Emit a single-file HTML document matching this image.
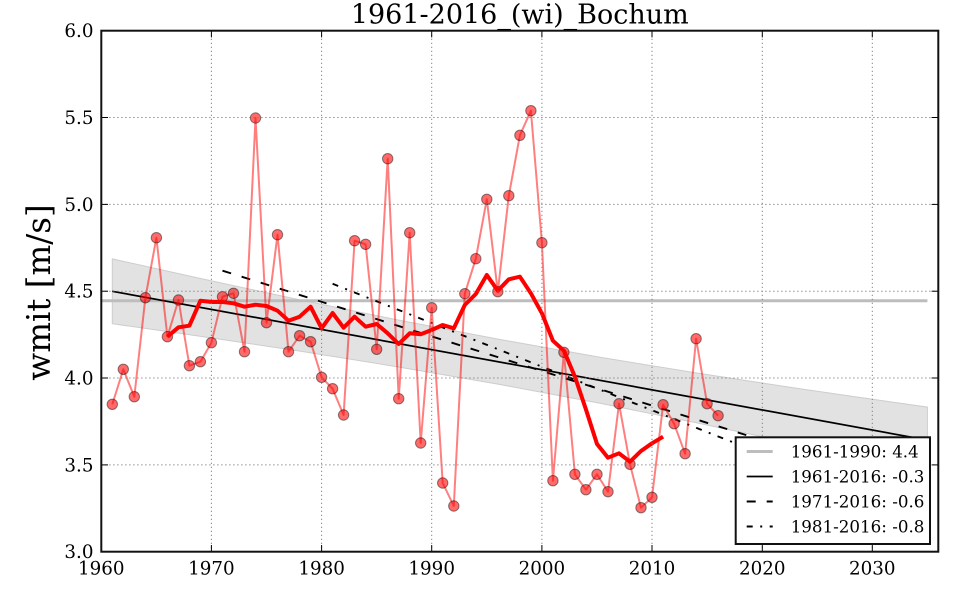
<!DOCTYPE html>
<html>
<head>
<meta charset="utf-8">
<style>
  html, body { margin: 0; padding: 0; background: #ffffff; }
  svg { display: block; }
  text { font-family: "DejaVu Serif", "Liberation Serif", serif; fill: #000; }
</style>
</head>
<body>
<svg width="960" height="600" viewBox="0 0 960 600" xmlns="http://www.w3.org/2000/svg">
  <rect x="0" y="0" width="960" height="600" fill="#ffffff"/>

  <!-- confidence band -->
  <polygon points="112.3,258.9 200,278.4 300,299.9 400,320.4 500,339.5 600,357.3 700,373.5 800,388.8 850,396.0 927.4,407.1 927.4,473.1 850,455.8 800,444.8 700,423.5 600,403.3 500,384.5 400,367.2 300,351.1 200,336.2 112.3,323.7"
           fill="#e2e2e2" stroke="#cdcdcd" stroke-width="1"/>

  <!-- 1961-1990 mean line -->
  <line x1="101.3" y1="300.8" x2="927.4" y2="300.8" stroke="#bdbdbd" stroke-width="3"/>

  <!-- trend lines -->
  <line x1="112.3" y1="291.3" x2="927.4" y2="440.1" stroke="#000" stroke-width="1.7"/>
  <line x1="222.5" y1="270.7" x2="927.4" y2="492.0" stroke="#000" stroke-width="1.9" stroke-dasharray="9 11"/>
  <line x1="332.6" y1="283.8" x2="927.4" y2="519.3" stroke="#000" stroke-width="1.9" stroke-dasharray="6 7.5 2 7.5"/>

  <!-- yearly values -->
  <polyline fill="none" stroke="#ff0000" stroke-opacity="0.5" stroke-width="2" stroke-linejoin="round"
    points="112.3,404.3 123.3,369.3 134.3,396.7 145.4,297.7 156.4,237.7 167.4,336.7 178.5,300 189.4,365.7 200.4,361.7 211.4,342.7 222.5,296.7 233.5,293.3 244.5,351.7 255.5,118 266.5,322.7 277.5,234.7 288.5,351.7 299.6,335.7 310.6,341.7 321.6,377.3 332.6,388.7 343.6,415 354.6,240.7 365.6,244.3 376.7,349.3 387.7,158.7 398.7,398.7 409.7,232.7 420.7,443 431.7,307.7 442.7,483 453.8,506 464.8,293.7 475.8,258.7 486.8,199.3 497.8,291.7 508.8,195.7 519.9,135.3 530.9,110.7 541.9,242.7 552.9,480.7 563.9,352.3 574.9,474.3 585.9,489.7 597.0,474.3 608.0,491.7 619.0,403.7 630.0,464.3 641.0,507.7 652.0,497.3 663.1,404.7 674.1,423.7 685.1,453.7 696.1,338.7 707.1,403.7 718.1,415.7"/>
  <g fill="#ff0000" fill-opacity="0.58" stroke="#000" stroke-opacity="0.45" stroke-width="1">
    <circle cx="112.3" cy="404.3" r="5.2"/><circle cx="123.3" cy="369.3" r="5.2"/><circle cx="134.3" cy="396.7" r="5.2"/>
    <circle cx="145.4" cy="297.7" r="5.2"/><circle cx="156.4" cy="237.7" r="5.2"/><circle cx="167.4" cy="336.7" r="5.2"/>
    <circle cx="178.5" cy="300" r="5.2"/><circle cx="189.4" cy="365.7" r="5.2"/><circle cx="200.4" cy="361.7" r="5.2"/>
    <circle cx="211.4" cy="342.7" r="5.2"/><circle cx="222.5" cy="296.7" r="5.2"/><circle cx="233.5" cy="293.3" r="5.2"/>
    <circle cx="244.5" cy="351.7" r="5.2"/><circle cx="255.5" cy="118" r="5.2"/><circle cx="266.5" cy="322.7" r="5.2"/>
    <circle cx="277.5" cy="234.7" r="5.2"/><circle cx="288.5" cy="351.7" r="5.2"/><circle cx="299.6" cy="335.7" r="5.2"/>
    <circle cx="310.6" cy="341.7" r="5.2"/><circle cx="321.6" cy="377.3" r="5.2"/><circle cx="332.6" cy="388.7" r="5.2"/>
    <circle cx="343.6" cy="415" r="5.2"/><circle cx="354.6" cy="240.7" r="5.2"/><circle cx="365.6" cy="244.3" r="5.2"/>
    <circle cx="376.7" cy="349.3" r="5.2"/><circle cx="387.7" cy="158.7" r="5.2"/><circle cx="398.7" cy="398.7" r="5.2"/>
    <circle cx="409.7" cy="232.7" r="5.2"/><circle cx="420.7" cy="443" r="5.2"/><circle cx="431.7" cy="307.7" r="5.2"/>
    <circle cx="442.7" cy="483" r="5.2"/><circle cx="453.8" cy="506" r="5.2"/><circle cx="464.8" cy="293.7" r="5.2"/>
    <circle cx="475.8" cy="258.7" r="5.2"/><circle cx="486.8" cy="199.3" r="5.2"/><circle cx="497.8" cy="291.7" r="5.2"/>
    <circle cx="508.8" cy="195.7" r="5.2"/><circle cx="519.9" cy="135.3" r="5.2"/><circle cx="530.9" cy="110.7" r="5.2"/>
    <circle cx="541.9" cy="242.7" r="5.2"/><circle cx="552.9" cy="480.7" r="5.2"/><circle cx="563.9" cy="352.3" r="5.2"/>
    <circle cx="574.9" cy="474.3" r="5.2"/><circle cx="585.9" cy="489.7" r="5.2"/><circle cx="597.0" cy="474.3" r="5.2"/>
    <circle cx="608.0" cy="491.7" r="5.2"/><circle cx="619.0" cy="403.7" r="5.2"/><circle cx="630.0" cy="464.3" r="5.2"/>
    <circle cx="641.0" cy="507.7" r="5.2"/><circle cx="652.0" cy="497.3" r="5.2"/><circle cx="663.1" cy="404.7" r="5.2"/>
    <circle cx="674.1" cy="423.7" r="5.2"/><circle cx="685.1" cy="453.7" r="5.2"/><circle cx="696.1" cy="338.7" r="5.2"/>
    <circle cx="707.1" cy="403.7" r="5.2"/><circle cx="718.1" cy="415.7" r="5.2"/>
  </g>

  <!-- smoothed line -->
  <polyline fill="none" stroke="#ff0000" stroke-width="4" stroke-linejoin="round"
    points="167.4,336.7 178.5,327.3 189.4,325.7 200.4,300.7 211.4,302 222.5,302 233.5,303.3 244.5,306.7 255.5,304.7 266.5,306 277.5,310.7 288.5,320.7 299.6,316.7 310.6,306.7 321.6,328.3 332.6,313 343.6,327.7 354.6,316.7 365.6,326.7 376.7,324 387.7,333.3 398.7,344 409.7,333.3 420.7,334.3 431.7,330 442.7,325 453.8,328.3 464.8,305 475.8,294 486.8,275 497.8,290.7 508.8,279.3 519.9,276.7 530.9,293.3 541.9,313.3 552.9,340.7 563.9,350.7 574.9,376.7 585.9,409.3 597.0,444 608.0,457.7 619.0,453.3 630.0,461.7 641.0,451 652.0,443.3 663.1,436.7"/>

  <!-- grid -->
  <g stroke="#777" stroke-width="1" stroke-dasharray="1.2 2.8">
    <line x1="211.4" y1="30.7" x2="211.4" y2="551.7"/>
    <line x1="321.6" y1="30.7" x2="321.6" y2="551.7"/>
    <line x1="431.7" y1="30.7" x2="431.7" y2="551.7"/>
    <line x1="541.9" y1="30.7" x2="541.9" y2="551.7"/>
    <line x1="652.0" y1="30.7" x2="652.0" y2="551.7"/>
    <line x1="762.3" y1="30.7" x2="762.3" y2="551.7"/>
    <line x1="872.3" y1="30.7" x2="872.3" y2="551.7"/>
    <line x1="101.3" y1="117.5" x2="938.3" y2="117.5"/>
    <line x1="101.3" y1="204.4" x2="938.3" y2="204.4"/>
    <line x1="101.3" y1="291.2" x2="938.3" y2="291.2"/>
    <line x1="101.3" y1="378.0" x2="938.3" y2="378.0"/>
    <line x1="101.3" y1="464.9" x2="938.3" y2="464.9"/>
  </g>

  <!-- ticks -->
  <g stroke="#000" stroke-width="1">
    <line x1="211.4" y1="551.7" x2="211.4" y2="545"/><line x1="211.4" y1="30.7" x2="211.4" y2="37.4"/>
    <line x1="321.6" y1="551.7" x2="321.6" y2="545"/><line x1="321.6" y1="30.7" x2="321.6" y2="37.4"/>
    <line x1="431.7" y1="551.7" x2="431.7" y2="545"/><line x1="431.7" y1="30.7" x2="431.7" y2="37.4"/>
    <line x1="541.9" y1="551.7" x2="541.9" y2="545"/><line x1="541.9" y1="30.7" x2="541.9" y2="37.4"/>
    <line x1="652.0" y1="551.7" x2="652.0" y2="545"/><line x1="652.0" y1="30.7" x2="652.0" y2="37.4"/>
    <line x1="762.3" y1="551.7" x2="762.3" y2="545"/><line x1="762.3" y1="30.7" x2="762.3" y2="37.4"/>
    <line x1="872.3" y1="551.7" x2="872.3" y2="545"/><line x1="872.3" y1="30.7" x2="872.3" y2="37.4"/>
    <line x1="101.3" y1="117.5" x2="108" y2="117.5"/><line x1="938.3" y1="117.5" x2="931.6" y2="117.5"/>
    <line x1="101.3" y1="204.4" x2="108" y2="204.4"/><line x1="938.3" y1="204.4" x2="931.6" y2="204.4"/>
    <line x1="101.3" y1="291.2" x2="108" y2="291.2"/><line x1="938.3" y1="291.2" x2="931.6" y2="291.2"/>
    <line x1="101.3" y1="378.0" x2="108" y2="378.0"/><line x1="938.3" y1="378.0" x2="931.6" y2="378.0"/>
    <line x1="101.3" y1="464.9" x2="108" y2="464.9"/><line x1="938.3" y1="464.9" x2="931.6" y2="464.9"/>
  </g>

  <!-- spines -->
  <rect x="101.3" y="30.7" width="837" height="521" fill="none" stroke="#111" stroke-width="2"/>

  <!-- tick labels -->
  <g font-size="18.3" text-anchor="end">
    <text x="93.5" y="37.2">6.0</text>
    <text x="93.5" y="124.0">5.5</text>
    <text x="93.5" y="210.9">5.0</text>
    <text x="93.5" y="297.7">4.5</text>
    <text x="93.5" y="384.5">4.0</text>
    <text x="93.5" y="471.4">3.5</text>
    <text x="93.5" y="558.2">3.0</text>
  </g>
  <g font-size="18.3" text-anchor="middle">
    <text x="101.3" y="574.5">1960</text>
    <text x="211.4" y="574.5">1970</text>
    <text x="321.6" y="574.5">1980</text>
    <text x="431.7" y="574.5">1990</text>
    <text x="541.9" y="574.5">2000</text>
    <text x="652.0" y="574.5">2010</text>
    <text x="762.3" y="574.5">2020</text>
    <text x="872.3" y="574.5">2030</text>
  </g>

  <!-- title -->
  <text x="519.8" y="23.5" font-size="27" text-anchor="middle">1961-2016_(wi)_Bochum</text>

  <!-- y label -->
  <text x="0" y="0" font-size="32.5" text-anchor="middle" transform="translate(50,292.5) rotate(-90)">wmit [m/s]</text>

  <!-- legend -->
  <rect x="735.7" y="437.3" width="194.3" height="106.7" fill="#ffffff" stroke="#111" stroke-width="2"/>
  <line x1="746.7" y1="451.5" x2="772.7" y2="451.5" stroke="#bdbdbd" stroke-width="3"/>
  <line x1="746.7" y1="476.5" x2="772.7" y2="476.5" stroke="#000" stroke-width="1.8"/>
  <line x1="746.7" y1="501.5" x2="772.7" y2="501.5" stroke="#000" stroke-width="1.9" stroke-dasharray="9 11"/>
  <line x1="746.7" y1="526.5" x2="772.7" y2="526.5" stroke="#000" stroke-width="1.9" stroke-dasharray="6 7.5 2 7.5"/>
  <g font-size="16.7">
    <text x="790.7" y="457.5">1961-1990: 4.4</text>
    <text x="790.7" y="482.5">1961-2016: -0.3</text>
    <text x="790.7" y="507.5">1971-2016: -0.6</text>
    <text x="790.7" y="532.5">1981-2016: -0.8</text>
  </g>
</svg>
</body>
</html>
